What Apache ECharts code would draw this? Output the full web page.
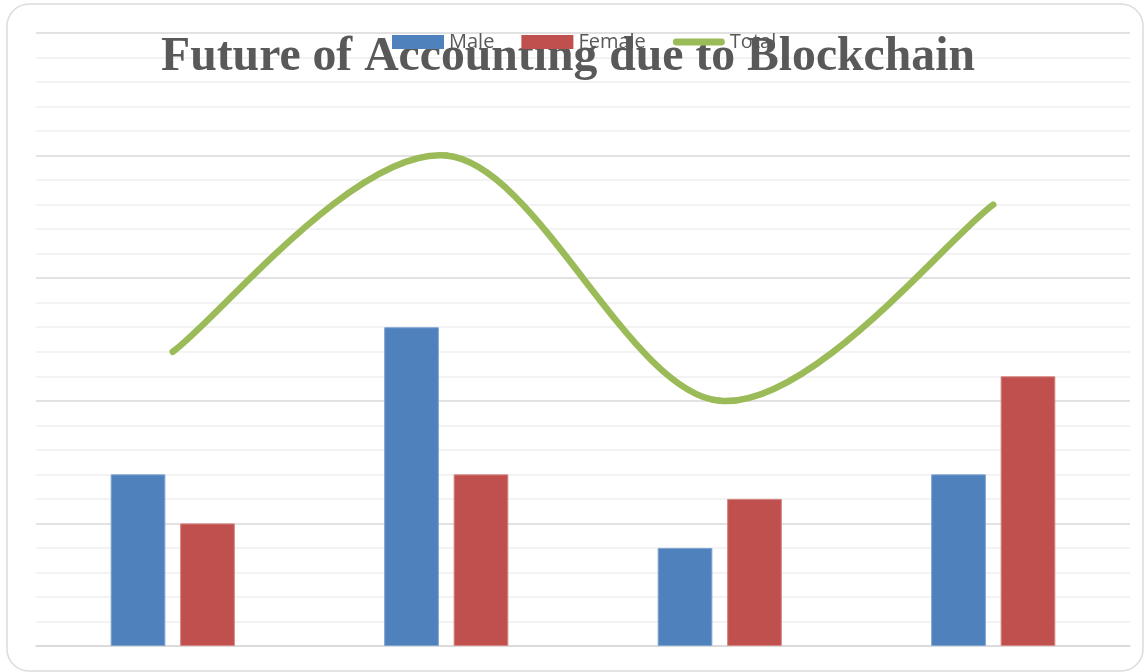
<!DOCTYPE html>
<html>
<head>
<meta charset="utf-8">
<title>Future of Accounting due to Blockchain</title>
<script src="https://cdn.jsdelivr.net/npm/echarts@6/dist/echarts.min.js"></script>
<style>
  html, body { margin: 0; padding: 0; background: #ffffff; }
  #chart { width: 1147px; height: 672px; }
</style>
</head>
<body>
<div id="chart"></div>
<script>
// Survey groups along the horizontal axis (unlabelled in the chart)
const categories = ['Group 1', 'Group 2', 'Group 3', 'Group 4'];
const maleValues = [7, 13, 4, 7];
const femaleValues = [5, 7, 6, 11];
const totalValues = [12, 20, 10, 18];

const yMin = 0;
const yMax = 25;
const yInterval = 5;

const chart = echarts.init(document.getElementById('chart'), null, { renderer: 'canvas' });

// Smooth "Total" curve: cubic Bezier segments with Catmull-Rom style tangents,
// every point placed through the chart's own coordinate system.
function renderTotalSegment(params, api) {
  const i = params.dataIndex;
  const n = totalValues.length;
  if (i >= n - 1) return null;
  const clampIdx = (k) => Math.max(0, Math.min(n - 1, k));
  const pt = (k) => api.coord([clampIdx(k), totalValues[clampIdx(k)]]);
  const p0 = pt(i - 1), p1 = pt(i), p2 = pt(i + 1), p3 = pt(i + 2);
  const c1 = [p1[0] + (p2[0] - p0[0]) / 6, p1[1] + (p2[1] - p0[1]) / 6];
  const c2 = [p2[0] - (p3[0] - p1[0]) / 6, p2[1] - (p3[1] - p1[1]) / 6];
  return {
    type: 'bezierCurve',
    shape: { x1: p1[0], y1: p1[1], cpx1: c1[0], cpy1: c1[1], cpx2: c2[0], cpy2: c2[1], x2: p2[0], y2: p2[1] },
    style: { stroke: '#9BBB59', lineWidth: 6.5, fill: null, lineCap: 'round' }
  };
}

chart.setOption({
  backgroundColor: '#ffffff',
  animation: false,
  graphic: [{
    type: 'rect',
    z: -10,
    silent: true,
    shape: { x: 7, y: 4, width: 1136, height: 667, r: 22 },
    style: { fill: '#ffffff', stroke: '#dcdcdc', lineWidth: 1.5 }
  }],
  title: {
    text: 'Future of Accounting due to Blockchain',
    left: 568,
    textAlign: 'center',
    top: 33.5,
    padding: 0,
    z: 1,
    textStyle: {
      fontFamily: '"Liberation Serif", "Times New Roman", serif',
      fontWeight: 'bold',
      fontSize: 47.7,
      color: '#595959'
    }
  },
  legend: {
    top: 32,
    left: 392,
    padding: 0,
    z: 5,
    itemWidth: 52,
    itemHeight: 14,
    itemGap: 27,
    itemStyle: { borderWidth: 0 },
    textStyle: {
      fontFamily: '"Open Sans", sans-serif',
      fontSize: 20,
      color: '#595959'
    },
    data: [
      { name: 'Male', icon: 'rect' },
      { name: 'Female', icon: 'rect' },
      {
        name: 'Total',
        icon: 'path://M4,0 L56,0 Q60,0 60,4 Q60,8 56,8 L4,8 Q0,8 0,4 Q0,0 4,0 Z',
        itemStyle: { color: '#9BBB59', borderWidth: 0 }
      }
    ]
  },
  grid: { left: 36, right: 17, top: 33, bottom: 26, containLabel: false },
  xAxis: {
    type: 'category',
    data: categories,
    axisLine: { show: true, lineStyle: { color: '#d9d9d9', width: 1.5 } },
    axisTick: { show: false },
    axisLabel: { show: false },
    splitLine: { show: false }
  },
  yAxis: {
    type: 'value',
    min: yMin,
    max: yMax,
    interval: yInterval,
    axisLine: { show: false },
    axisTick: { show: false },
    axisLabel: { show: false },
    splitLine: { show: true, lineStyle: { color: '#d9d9d9', width: 1.5 } },
    minorTick: { show: false, splitNumber: 5 },
    minorSplitLine: { show: true, lineStyle: { color: '#efefef', width: 1.5 } }
  },
  series: [
    {
      name: 'Male',
      type: 'bar',
      data: maleValues,
      barWidth: '20%',
      barGap: '27%',
      itemStyle: { color: '#4F81BD', borderColor: '#7ea3d2', borderWidth: 1 }
    },
    {
      name: 'Female',
      type: 'bar',
      data: femaleValues,
      barWidth: '20%',
      itemStyle: { color: '#C0504D', borderColor: '#d58582', borderWidth: 1 }
    },
    {
      name: 'Total',
      type: 'custom',
      data: totalValues.map((v, i) => [i, v]),
      encode: { x: 0, y: 1 },
      renderItem: renderTotalSegment,
      itemStyle: { color: '#9BBB59' },
      z: 3
    }
  ]
});
</script>
</body>
</html>
